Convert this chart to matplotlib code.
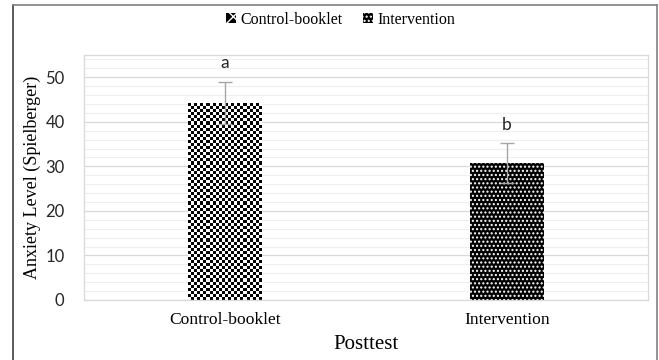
import matplotlib.pyplot as plt
import matplotlib.patches as mpatches
from matplotlib.lines import Line2D
import numpy as np

# data
groups = ['Control-booklet', 'Intervention']
means = [44.2, 30.8]
errors = [4.8, 4.5]
letters = ['a', 'b']

serif = ['Liberation Serif', 'DejaVu Serif']
sans = ['Lato', 'DejaVu Sans']

fig = plt.figure(figsize=(6.59, 3.60), dpi=100)
ax = fig.add_axes([84 / 659, 1 - 300 / 360, (648 - 84) / 659, (300 - 55) / 360])

x = np.arange(len(groups))
ax.set_xlim(-0.5, 1.5)
ax.set_ylim(0, 55)

# grid
ax.set_yticks(np.arange(0, 51, 10))
ax.set_yticks(np.arange(0, 55, 2), minor=True)
ax.grid(axis='y', which='major', color='#d9d9d9', linewidth=0.9)
ax.grid(axis='y', which='minor', color='#efefef', linewidth=0.8)
ax.set_axisbelow(True)
for s in ax.spines.values():
    s.set_color('#d9d9d9')
    s.set_linewidth(0.9)

bars = ax.bar(x, means, width=0.26, zorder=2)

# control bar: checkerboard filling clipped to the bar
b0 = bars[0]
b0.set_facecolor('white')
b0.set_linewidth(0)
ncols = 24
px_per_unit = ax.bbox.height / 55
nrows = int(round(b0.get_height() * px_per_unit / 3.1))
checker = (np.indices((nrows, ncols)).sum(axis=0) % 2).astype(float)
im = ax.imshow(checker, cmap='gray', interpolation='nearest', aspect='auto',
               extent=[b0.get_x(), b0.get_x() + b0.get_width(), 0, b0.get_height()],
               zorder=2)
im.set_clip_path(b0)

# intervention bar: white dots on black
b1 = bars[1]
b1.set_facecolor('black')
b1.set_edgecolor('white')
b1.set_linewidth(0)
b1.set_hatch('....')

ax.set_xlim(-0.5, 1.5)
ax.set_ylim(0, 55)

ax.errorbar(x, means, yerr=errors, fmt='none', ecolor='#a6a6a6',
            elinewidth=1, capsize=5, capthick=1, zorder=3)

for xi, m, e, t in zip(x, means, errors, letters):
    ax.text(xi, m + e + 2.3, t, ha='center', va='bottom', fontsize=12.5,
            family=sans, color='#262626')

ax.set_xticks(x)
ax.set_xticklabels(groups, family=serif, fontsize=12.6)
ax.tick_params(axis='both', which='both', length=0)
ax.tick_params(axis='x', pad=9)
ax.tick_params(axis='y', pad=14)
for lab in ax.get_yticklabels():
    lab.set_family(sans)
    lab.set_fontsize(12)
    lab.set_color('#262626')

ax.set_xlabel('Posttest', family=serif, fontsize=15, labelpad=5)
ax.set_ylabel('Anxiety Level (Spielberger)', family=serif, fontsize=13, labelpad=3)

# legend
h0 = mpatches.Patch(facecolor='black', edgecolor='white', hatch='xx', linewidth=0)
h1 = mpatches.Patch(facecolor='black', edgecolor='white', hatch='....', linewidth=0)
fig.legend([h0, h1], groups, loc='center', bbox_to_anchor=(0.517, 1 - 20 / 360),
           ncol=2, frameon=False, prop={'family': serif, 'size': 11.5},
           handlelength=0.6, handleheight=0.6, handletextpad=0.3, columnspacing=1.3)

# outer frame of the figure
fig.add_artist(Line2D([13 / 659, 13 / 659], [0, 1 - 5 / 360], color='#404040', linewidth=1.2))
fig.add_artist(Line2D([13 / 659, 657 / 659], [1 - 5 / 360, 1 - 5 / 360], color='#808080', linewidth=1.2))
fig.add_artist(Line2D([657 / 659, 657 / 659], [0, 1 - 5 / 360], color='#808080', linewidth=1.2))

fig.savefig('out.png', dpi=100)
